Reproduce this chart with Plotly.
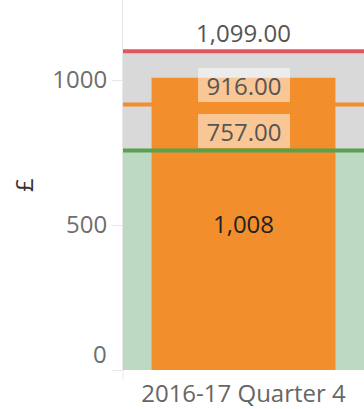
import plotly.graph_objects as go

# Quarterly spend against three reference levels (bullet-style chart)
quarters = ["2016-17 Quarter 4"]
spend = [1008]
lower_ref = [757]    # green reference line / top of green band
mid_ref = [916]      # orange reference line
upper_ref = [1099]   # red reference line / top of grey band
y_ticks = [0, 500, 1000]

FONT = "Open Sans"
GREEN_BAND = "#bdd9c3"
GREY_BAND = "#d9d9d9"
BAR = "#f28e2b"
RED = "#e15759"
ORANGE = "#f28e2b"
GREEN = "#59a14f"
AXIS_LINE = "#e8e8e8"
TICK_COLOR = "#6e6e6e"

fig = go.Figure(
    go.Bar(
        x=quarters,
        y=spend,
        width=0.763,
        marker=dict(color=BAR, line=dict(width=0)),
        text=[f"{v:,.0f}" for v in spend],
        textposition="inside",
        insidetextanchor="middle",
        textangle=0,
        textfont=dict(family=FONT, size=24, color="#222222"),
        hoverinfo="skip",
    )
)

# Background bands behind the bar
fig.add_shape(type="rect", xref="paper", yref="y", x0=0, x1=1,
              y0=0, y1=lower_ref[0], fillcolor=GREEN_BAND,
              line=dict(width=0), layer="below")
fig.add_shape(type="rect", xref="paper", yref="y", x0=0, x1=1,
              y0=lower_ref[0], y1=upper_ref[0], fillcolor=GREY_BAND,
              line=dict(width=0), layer="below")

# Reference lines on top of the bar
for val, col in ((upper_ref[0], RED), (mid_ref[0], ORANGE), (lower_ref[0], GREEN)):
    fig.add_shape(type="line", xref="paper", yref="y", x0=0, x1=1,
                  y0=val, y1=val, line=dict(color=col, width=4), layer="above")

# Reference line labels sitting just above each line
label_boxes = {upper_ref[0]: None, mid_ref[0]: 90, lower_ref[0]: 90}
for val, box_w in label_boxes.items():
    fig.add_annotation(
        x=quarters[0], y=val, xref="x", yref="y",
        text=f"{val:,.2f}", showarrow=False,
        xanchor="center", yanchor="bottom", yshift=2,
        width=box_w, height=32, borderpad=1, borderwidth=0,
        bgcolor="rgba(255,255,255,0.5)",
        font=dict(family=FONT, size=24, color="#555555"),
    )

# The lowest tick label is lifted so it sits above the axis floor
tick_text = ["" if v == y_ticks[0] else str(v) for v in y_ticks]
fig.add_annotation(
    x=0, xref="paper", y=y_ticks[0], yref="y",
    text=str(y_ticks[0]), showarrow=False,
    xanchor="right", yanchor="bottom", xshift=-14, yshift=-2,
    font=dict(family=FONT, size=24, color=TICK_COLOR),
)

# Axis line extension below the plot area
fig.add_shape(type="line", xref="paper", yref="paper", x0=0, x1=0,
              y0=-10 / 372, y1=0, line=dict(color=AXIS_LINE, width=1))

fig.update_layout(
    width=364, height=409,
    margin=dict(l=123, r=0, t=0, b=37),
    paper_bgcolor="white", plot_bgcolor="white",
    showlegend=False,
    font=dict(family=FONT),
    xaxis=dict(
        range=[-0.5, 0.5], showgrid=False, zeroline=False, showline=False,
        ticks="", ticklabelstandoff=7,
        tickfont=dict(family=FONT, size=24, color="#666666"),
        fixedrange=True,
    ),
    yaxis=dict(
        range=[0, 1276], tickvals=y_ticks, ticktext=tick_text,
        showgrid=False, zeroline=False,
        showline=True, linecolor=AXIS_LINE, linewidth=1,
        ticks="outside", ticklen=10, tickcolor=AXIS_LINE,
        tickfont=dict(family=FONT, size=24, color=TICK_COLOR),
        title=dict(text="£", standoff=11,
                   font=dict(family=FONT, size=24, color="#333333")),
        fixedrange=True,
    ),
)

fig.write_html("out.html")
